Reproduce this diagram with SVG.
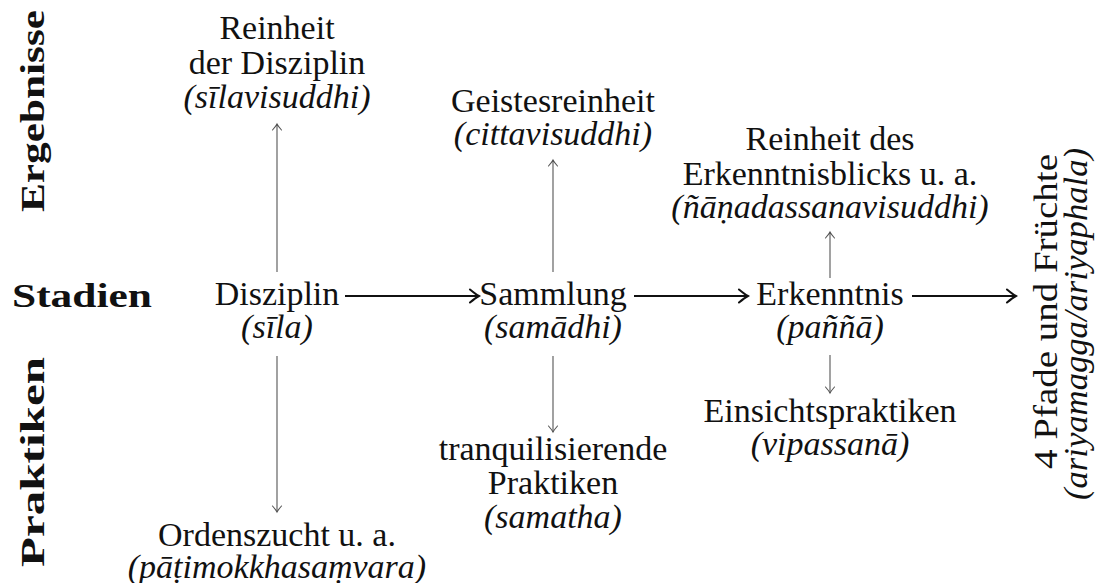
<svg xmlns="http://www.w3.org/2000/svg" width="1099" height="583" viewBox="0 0 1099 583">
<style>
text{font-family:"Liberation Serif","Times New Roman",serif;font-size:34px;fill:#111;text-anchor:middle}
.it{font-style:italic}
.b{font-weight:bold;text-anchor:start}
.r{text-anchor:start}
.thick{stroke:#111;stroke-width:2.2;fill:none}
.thin{stroke:#555;stroke-width:1.1;fill:none}
</style>
<defs>
<marker id="hb" markerUnits="userSpaceOnUse" viewBox="-12 -8 14 16" markerWidth="14" markerHeight="16" refX="0" refY="0" orient="auto">
<path d="M-9,-6.5 Q-3,-1.5 0,0 Q-3,1.5 -9,6.5" stroke="#111" stroke-width="2" fill="none" stroke-linecap="round"/>
</marker>
<marker id="hs" markerUnits="userSpaceOnUse" viewBox="-9 -6 11 12" markerWidth="11" markerHeight="12" refX="0" refY="0" orient="auto">
<path d="M-6,-4.5 Q-2,-1 0,0 Q-2,1 -6,4.5" stroke="#555" stroke-width="1.1" fill="none" stroke-linecap="round"/>
</marker>
</defs>
<g id="labels">
<text class="b" transform="translate(44,212) rotate(-90)" x="0" y="0" font-size="36" textLength="202" lengthAdjust="spacingAndGlyphs">Ergebnisse</text>
<text class="b" x="12" y="307" font-size="35" textLength="140" lengthAdjust="spacingAndGlyphs">Stadien</text>
<text class="b" transform="translate(44,567) rotate(-90)" x="0" y="0" font-size="36" textLength="210" lengthAdjust="spacingAndGlyphs">Praktiken</text>
</g>
<g id="connectors">
<line class="thick" x1="345" y1="296" x2="479" y2="296" marker-end="url(#hb)"/>
<line class="thick" x1="634" y1="296" x2="748" y2="296" marker-end="url(#hb)"/>
<line class="thick" x1="912" y1="296" x2="1016" y2="296" marker-end="url(#hb)"/>
<line class="thin" x1="277" y1="272" x2="277" y2="124" marker-end="url(#hs)"/>
<line class="thin" x1="277" y1="356" x2="277" y2="512" marker-end="url(#hs)"/>
<line class="thin" x1="553" y1="272" x2="553" y2="160" marker-end="url(#hs)"/>
<line class="thin" x1="553" y1="356" x2="553" y2="432" marker-end="url(#hs)"/>
<line class="thin" x1="830" y1="278" x2="830" y2="232" marker-end="url(#hs)"/>
<line class="thin" x1="830" y1="355" x2="830" y2="393" marker-end="url(#hs)"/>
</g>
<g id="silavisuddhi">
<text x="277" y="39">Reinheit</text>
<text x="277" y="74">der Disziplin</text>
<text class="it" x="277" y="108">(sīlavisuddhi)</text>
</g>
<g id="sila">
<text x="277" y="305">Disziplin</text>
<text class="it" x="277" y="338">(sīla)</text>
</g>
<g id="patimokkha">
<text x="277" y="546">Ordenszucht u. a.</text>
<text class="it" x="277" y="578">(pāṭimokkhasaṃvara)</text>
</g>
<g id="cittavisuddhi">
<text x="553" y="112">Geistesreinheit</text>
<text class="it" x="553" y="145">(cittavisuddhi)</text>
</g>
<g id="samadhi">
<text x="553" y="305">Sammlung</text>
<text class="it" x="553" y="338">(samādhi)</text>
</g>
<g id="samatha">
<text x="553" y="460">tranquilisierende</text>
<text x="553" y="494">Praktiken</text>
<text class="it" x="553" y="528">(samatha)</text>
</g>
<g id="nanadassana">
<text x="830" y="150">Reinheit des</text>
<text x="830" y="185">Erkenntnisblicks u. a.</text>
<text class="it" x="830" y="218">(ñāṇadassanavisuddhi)</text>
</g>
<g id="panna">
<text x="830" y="305">Erkenntnis</text>
<text class="it" x="830" y="338">(paññā)</text>
</g>
<g id="vipassana">
<text x="830" y="422">Einsichtspraktiken</text>
<text class="it" x="830" y="455">(vipassanā)</text>
</g>
<g id="ariya">
<text class="r" transform="translate(1057,469) rotate(-90)" textLength="315" lengthAdjust="spacingAndGlyphs">4 Pfade und Früchte</text>
<text class="r it" transform="translate(1087,500) rotate(-90)" textLength="352" lengthAdjust="spacingAndGlyphs">(ariyamagga/ariyaphala)</text>
</g>
</svg>
